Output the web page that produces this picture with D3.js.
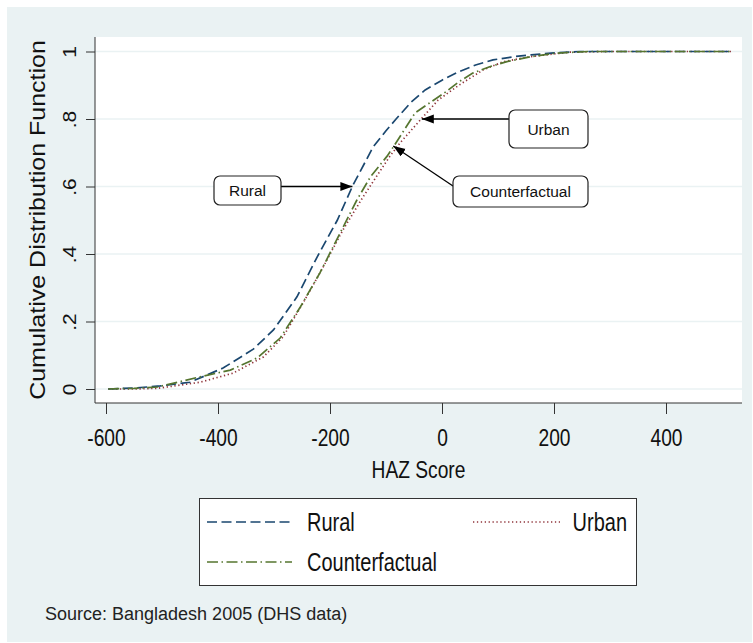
<!DOCTYPE html>
<html>
<head>
  <meta charset="utf-8">
  <script src="https://cdn.jsdelivr.net/npm/d3@7/dist/d3.min.js"></script>
  <style>
    body { margin: 0; background: #ffffff; }
    .reg { font-family: "Liberation Sans", Arial, sans-serif; }
  </style>
</head>
<body>
<div id="viz"></div>
<script>
// values (HAZ score vs cumulative share)
var ruralX = [-596, -550, -503, -450, -391, -337, -301, -259, -223, -187, -159, -123, -100, -82, -55, -30, 0, 30, 60, 91, 130, 159, 200, 246, 350, 450, 517];
var ruralY = [0, 0.003, 0.009, 0.02, 0.062, 0.118, 0.175, 0.273, 0.391, 0.50, 0.604, 0.717, 0.765, 0.80, 0.85, 0.886, 0.915, 0.94, 0.96, 0.975, 0.985, 0.99, 0.996, 1, 1, 1, 1];

var urbanX = [-596, -550, -508, -432, -373, -319, -284, -248, -212, -177, -141, -111, -93, -75, -34, -7, 30, 73, 110, 159, 228, 300, 400, 517];
var urbanY = [0, 0, 0.002, 0.02, 0.047, 0.095, 0.154, 0.255, 0.362, 0.471, 0.569, 0.645, 0.69, 0.729, 0.806, 0.856, 0.90, 0.945, 0.97, 0.985, 0.998, 1, 1, 1];

var cfX = [-596, -550, -508, -432, -378, -330, -289, -253, -218, -182, -152, -128, -98, -87, -48, -20, 4, 30, 55, 85, 116, 160, 203, 260, 350, 450, 517];
var cfY = [0, 0.002, 0.006, 0.036, 0.056, 0.092, 0.151, 0.243, 0.344, 0.462, 0.56, 0.628, 0.69, 0.717, 0.818, 0.85, 0.877, 0.91, 0.936, 0.955, 0.97, 0.985, 0.995, 1, 1, 1, 1];

var xTicks = [-600, -400, -200, 0, 200, 400];
var yTicks = [0, 0.2, 0.4, 0.6, 0.8, 1];
var yTickLabels = ["0", ".2", ".4", ".6", ".8", "1"];

var seriesNames = ["Rural", "Urban", "Counterfactual"];

// callouts: label and the point on the curve the arrow points to
var annoLabels = ["Rural", "Urban", "Counterfactual"];
var annoTargetX = [-160, -36, -87];
var annoTargetY = [0.6, 0.8, 0.72];

var W = 753, H = 643;
var plotL = 95, plotR = 742, plotT = 37, plotB = 403;
var squeeze = 0.8;   // the original graph text is horizontally condensed

var svg = d3.select("#viz").append("svg")
    .attr("width", W)
    .attr("height", H);

// outer graph region
svg.append("rect")
    .attr("x", 7).attr("y", 7)
    .attr("width", 745).attr("height", 635)
    .attr("fill", "#eaf2f3");

// plot region
svg.append("rect")
    .attr("x", plotL).attr("y", plotT)
    .attr("width", plotR - plotL).attr("height", plotB - plotT)
    .attr("fill", "#ffffff");

var x = d3.scaleLinear().domain([-600, 400]).range([106, 666]);
var y = d3.scaleLinear().domain([0, 1]).range([389, 51.5]);

// grid
svg.append("g").selectAll("line")
    .data(yTicks)
    .enter().append("line")
    .attr("x1", plotL).attr("x2", plotR)
    .attr("y1", function(d){ return y(d); })
    .attr("y2", function(d){ return y(d); })
    .attr("stroke", "#eaf2f3")
    .attr("stroke-width", 1.5);

// axes
var xAxis = svg.append("g")
    .attr("transform", "translate(0," + plotB + ")")
    .call(d3.axisBottom(x).tickValues(xTicks).tickFormat(function(d){ return String(d); }).tickSize(11).tickSizeOuter(0));
xAxis.select(".domain").remove();
xAxis.selectAll("line").attr("stroke", "#333");
xAxis.selectAll("text")
    .attr("class", "reg")
    .attr("transform", "translate(0,43) scale(" + squeeze + ",1)")
    .attr("y", 0).attr("dy", 0)
    .attr("fill", "#111")
    .style("font-size", "24px");

var yAxis = svg.append("g")
    .attr("transform", "translate(" + plotL + ",0)")
    .call(d3.axisLeft(y).tickValues(yTicks).tickFormat(function(d, i){ return yTickLabels[i]; }).tickSize(9).tickSizeOuter(0));
yAxis.select(".domain").remove();
yAxis.selectAll("line").attr("stroke", "#333");
yAxis.selectAll("text")
    .attr("class", "reg")
    .attr("transform", "translate(-19,0) scale(0.85,1) rotate(-90)")
    .attr("x", 0).attr("y", 0).attr("dy", 0)
    .attr("fill", "#111")
    .style("text-anchor", "middle")
    .style("font-size", "21px");

svg.append("line")
    .attr("x1", plotL).attr("x2", plotL)
    .attr("y1", plotT).attr("y2", plotB)
    .attr("stroke", "#333");
svg.append("line")
    .attr("x1", plotL).attr("x2", plotR)
    .attr("y1", plotB).attr("y2", plotB)
    .attr("stroke", "#333");

// axis titles
svg.append("text")
    .attr("class", "reg")
    .attr("transform", "translate(45,220) scale(0.85,1) rotate(-90)")
    .attr("text-anchor", "middle")
    .attr("fill", "#111")
    .style("font-size", "25px")
    .text("Cumulative Distribution Function");

svg.append("text")
    .attr("class", "reg")
    .attr("transform", "translate(" + ((plotL + plotR) / 2) + ",478) scale(" + squeeze + ",1)")
    .attr("text-anchor", "middle")
    .attr("fill", "#111")
    .style("font-size", "24px")
    .text("HAZ Score");

// line styles
var styles = [
  {color: "#1a476f", dash: "10,4.5"},
  {color: "#90353b", dash: "1.3,2.6"},
  {color: "#55752f", dash: "11,3.5,1.5,3.5"}
];
var seriesX = [ruralX, urbanX, cfX];
var seriesY = [ruralY, urbanY, cfY];

var line = d3.line()
    .x(function(d){ return x(d[0]); })
    .y(function(d){ return y(d[1]); });

// draw urban first so the others sit on top like the original
[1, 0, 2].forEach(function(i){
  var pts = seriesX[i].map(function(v, j){ return [v, seriesY[i][j]]; });
  svg.append("path")
      .datum(pts)
      .attr("d", line)
      .attr("fill", "none")
      .attr("stroke", styles[i].color)
      .attr("stroke-width", 1.7)
      .attr("stroke-dasharray", styles[i].dash);
});

// arrowhead
svg.append("defs").append("marker")
    .attr("id", "arrow")
    .attr("markerUnits", "userSpaceOnUse")
    .attr("markerWidth", 13).attr("markerHeight", 10)
    .attr("refX", 12).attr("refY", 4.5)
    .attr("orient", "auto")
  .append("path")
    .attr("d", "M0,0 L12,4.5 L0,9 Z")
    .attr("fill", "#000");

// callout boxes (layout only)
var boxes = [
  {x: 214, y: 176, w: 67, h: 29, sx: 281},
  {x: 509, y: 110, w: 79, h: 38, sx: 509},
  {x: 453, y: 176, w: 135, h: 31, sx: 453}
];

annoLabels.forEach(function(lab, i){
  var b = boxes[i];
  var tx = x(annoTargetX[i]), ty = y(annoTargetY[i]);
  var sy = (i === 2) ? 186 : ty;
  svg.append("line")
      .attr("x1", b.sx).attr("y1", sy)
      .attr("x2", tx).attr("y2", ty)
      .attr("stroke", "#000")
      .attr("stroke-width", 1.3)
      .attr("marker-end", "url(#arrow)");
  svg.append("rect")
      .attr("x", b.x).attr("y", b.y)
      .attr("width", b.w).attr("height", b.h)
      .attr("rx", 6).attr("ry", 6)
      .attr("fill", "#fff")
      .attr("stroke", "#222")
      .attr("stroke-width", 1.2);
  svg.append("text")
      .attr("class", "reg")
      .attr("x", b.x + b.w / 2).attr("y", b.y + b.h / 2 + 5.5)
      .attr("text-anchor", "middle")
      .attr("fill", "#111")
      .style("font-size", "15.5px")
      .text(lab);
});

// legend
var leg = svg.append("g");
leg.append("rect")
    .attr("x", 199.5).attr("y", 498.5)
    .attr("width", 437).attr("height", 87)
    .attr("fill", "#fff")
    .attr("stroke", "#333")
    .attr("stroke-width", 1);

var legItems = [
  {i: 0, x1: 207, x2: 292, ly: 522, tx: 307, anchor: "start"},
  {i: 1, x1: 473, x2: 560, ly: 522, tx: 627, anchor: "end"},
  {i: 2, x1: 207, x2: 292, ly: 562, tx: 307, anchor: "start"}
];
legItems.forEach(function(it){
  leg.append("line")
      .attr("x1", it.x1).attr("x2", it.x2)
      .attr("y1", it.ly).attr("y2", it.ly)
      .attr("stroke", styles[it.i].color)
      .attr("stroke-width", 1.6)
      .attr("stroke-dasharray", styles[it.i].dash);
  leg.append("text")
      .attr("class", "reg")
      .attr("transform", "translate(" + it.tx + "," + (it.ly + 9) + ") scale(" + squeeze + ",1)")
      .attr("text-anchor", it.anchor)
      .attr("fill", "#111")
      .style("font-size", "25px")
      .text(seriesNames[it.i]);
});

// source note
svg.append("text")
    .attr("class", "reg")
    .attr("x", 45).attr("y", 620)
    .attr("fill", "#222")
    .style("font-size", "18px")
    .text("Source: Bangladesh 2005 (DHS data)");
</script>
</body>
</html>
